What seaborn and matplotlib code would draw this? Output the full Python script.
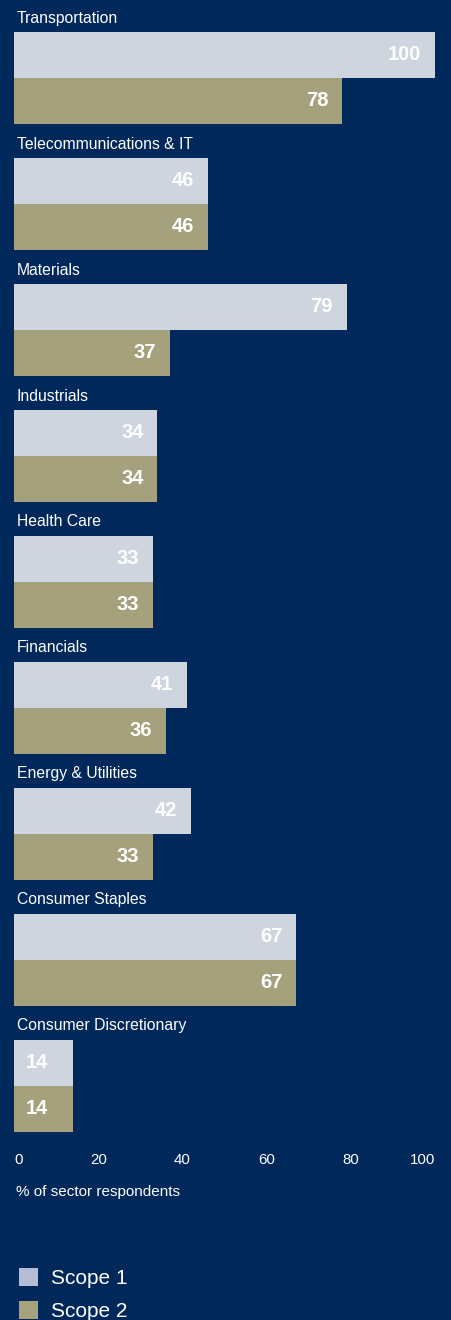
import numpy as np
import pandas as pd
import matplotlib
matplotlib.use("Agg")
import matplotlib.pyplot as plt
import seaborn as sns
from matplotlib.patches import Patch

# data
sectors = ["Transportation", "Telecommunications & IT", "Materials", "Industrials",
           "Health Care", "Financials", "Energy & Utilities", "Consumer Staples",
           "Consumer Discretionary"]
scope1 = [100, 46, 79, 34, 33, 41, 42, 67, 14]
scope2 = [78, 46, 37, 34, 33, 36, 33, 67, 14]
series = ["Scope 1", "Scope 2"]
ticks = [0, 20, 40, 60, 80, 100]

bg = "#00285A"
bar_colors = {"Scope 1": "#CED5DF", "Scope 2": "#A4A17C"}
legend_colors = ["#B5BCD6", "#A5A27D"]

df = pd.DataFrame({
    "sector": sectors * 2,
    "value": scope1 + scope2,
    "scope": [series[0]] * len(sectors) + [series[1]] * len(sectors),
})

sns.set_theme(style="white")
plt.rcParams["font.family"] = ["Liberation Sans", "DejaVu Sans"]

W, H = 451, 1320
fig = plt.figure(figsize=(W / 100, H / 100), dpi=100, facecolor=bg)
ax = fig.add_axes([14 / W, 180 / H, 421 / W, 1140 / H])
ax.set_facecolor(bg)

bw = 0.73
sns.barplot(data=df, y="sector", x="value", hue="scope", order=sectors,
            hue_order=series, palette=bar_colors, orient="h", width=bw,
            saturation=1, linewidth=0, legend=False, ax=ax)

ax.set_xlim(0, 100)
ax.set_ylim(8.429, -0.619)
for s in ax.spines.values():
    s.set_visible(False)
ax.set_yticks([])
ax.set_ylabel("")
ax.set_xlabel("")
ax.set_xticks(ticks)
ax.set_xticklabels([str(t) for t in ticks], color="white", fontsize=10.8)
ax.tick_params(axis="x", length=0, pad=9)
lbls = ax.get_xticklabels()
lbls[0].set_ha("left")
lbls[-1].set_ha("right")

half = bw / 2
for i, name in enumerate(sectors):
    ax.text(0.7, i - half - 0.111, name, color="white", fontsize=11.3,
            ha="left", va="center")
    for j, vals in enumerate([scope1, scope2]):
        v = vals[i]
        y = i - half / 2 + j * half
        if v < 20:
            ax.text(2.9, y, str(v), color="white", fontsize=14.5,
                    fontweight="bold", ha="left", va="center")
        else:
            ax.text(v - 3.2, y, str(v), color="white", fontsize=14.5,
                    fontweight="bold", ha="right", va="center")

fig.text(16 / W, 1 - 1192 / H, "% of sector respondents", color="white",
         fontsize=11, ha="left", va="center")

handles = [Patch(facecolor=c, edgecolor="none") for c in legend_colors]
fig.legend(handles, series, loc="upper left",
           bbox_to_anchor=(19 / W, 1 - 1268 / H), frameon=False,
           fontsize=15, handlelength=0.92, handleheight=0.92,
           handletextpad=0.62, labelspacing=0.64, borderpad=0,
           borderaxespad=0, labelcolor="white")

fig.savefig("out.png", dpi=100, facecolor=bg)
